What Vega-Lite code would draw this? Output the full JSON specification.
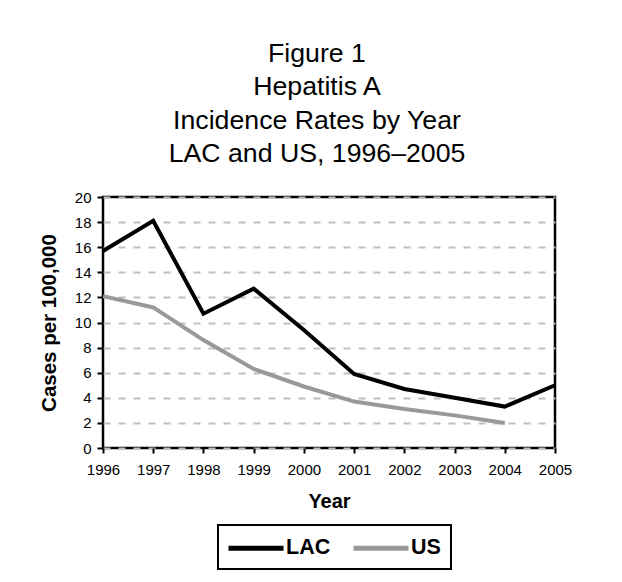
{
  "$schema": "https://vega.github.io/schema/vega-lite/v6.json",
  "autosize": "none",
  "width": 452,
  "height": 251,
  "padding": {"left": 103, "top": 197, "right": 67, "bottom": 134},
  "background": "white",
  "title": {
    "text": ["Figure 1", "Hepatitis A", "Incidence Rates by Year", "LAC and US, 1996–2005"],
    "font": "Liberation Sans",
    "fontSize": 26.7,
    "fontWeight": "normal",
    "color": "black",
    "lineHeight": 33.5,
    "anchor": "middle",
    "frame": "group",
    "dx": -12,
    "offset": 22
  },
  "data": {
    "values": [
      {"Year": 1996, "Area": "LAC", "Rate": 15.7},
      {"Year": 1997, "Area": "LAC", "Rate": 18.1},
      {"Year": 1998, "Area": "LAC", "Rate": 10.7},
      {"Year": 1999, "Area": "LAC", "Rate": 12.7},
      {"Year": 2000, "Area": "LAC", "Rate": 9.4},
      {"Year": 2001, "Area": "LAC", "Rate": 5.9},
      {"Year": 2002, "Area": "LAC", "Rate": 4.7},
      {"Year": 2003, "Area": "LAC", "Rate": 4.0},
      {"Year": 2004, "Area": "LAC", "Rate": 3.3},
      {"Year": 2005, "Area": "LAC", "Rate": 5.0},
      {"Year": 1996, "Area": "US", "Rate": 12.1},
      {"Year": 1997, "Area": "US", "Rate": 11.2},
      {"Year": 1998, "Area": "US", "Rate": 8.6},
      {"Year": 1999, "Area": "US", "Rate": 6.3},
      {"Year": 2000, "Area": "US", "Rate": 4.9},
      {"Year": 2001, "Area": "US", "Rate": 3.7},
      {"Year": 2002, "Area": "US", "Rate": 3.1},
      {"Year": 2003, "Area": "US", "Rate": 2.6},
      {"Year": 2004, "Area": "US", "Rate": 2.0}
    ]
  },
  "mark": {"type": "line", "strokeWidth": 4, "strokeJoin": "miter", "strokeCap": "butt"},
  "encoding": {
    "x": {
      "field": "Year",
      "type": "quantitative",
      "scale": {"domain": [1996, 2005], "nice": false, "zero": false},
      "axis": {
        "title": "Year",
        "values": [1996, 1997, 1998, 1999, 2000, 2001, 2002, 2003, 2004, 2005],
        "format": "d",
        "grid": false,
        "labelFlush": false,
        "labelOverlap": false,
        "tickSize": 5,
        "labelPadding": 9,
        "titlePadding": 14
      }
    },
    "y": {
      "field": "Rate",
      "type": "quantitative",
      "scale": {"domain": [0, 20], "nice": false},
      "axis": {
        "title": "Cases per 100,000",
        "titleFontSize": 20.5,
        "values": [0, 2, 4, 6, 8, 10, 12, 14, 16, 18, 20],
        "grid": true,
        "gridColor": "#bfbfbf",
        "gridWidth": 2,
        "gridDash": [7, 8],
        "tickSize": 6,
        "labelPadding": 6,
        "titlePadding": 15
      }
    },
    "color": {
      "field": "Area",
      "type": "nominal",
      "scale": {"domain": ["LAC", "US"], "range": ["#000000", "#999999"]},
      "legend": {
        "title": null,
        "orient": "none",
        "direction": "horizontal",
        "legendX": 115,
        "legendY": 328,
        "symbolType": "M-2.62,0H2.62",
        "symbolSize": 441,
        "symbolStrokeWidth": 5,
        "symbolOffset": 15,
        "labelFont": "Liberation Sans",
        "labelFontSize": 21.5,
        "labelFontWeight": "bold",
        "labelColor": "black",
        "labelOffset": 17,
        "columnPadding": 12,
        "padding": 10,
        "strokeColor": "black"
      }
    }
  },
  "config": {
    "font": "Liberation Sans",
    "view": {"stroke": "black", "strokeWidth": 2.5},
    "legend": {"strokeWidth": 2},
    "axis": {
      "domain": false,
      "tickColor": "black",
      "tickWidth": 2,
      "labelFont": "Liberation Sans",
      "labelFontSize": 15,
      "labelColor": "black",
      "titleFont": "Liberation Sans",
      "titleFontSize": 20,
      "titleFontWeight": "bold",
      "titleColor": "black"
    }
  }
}
